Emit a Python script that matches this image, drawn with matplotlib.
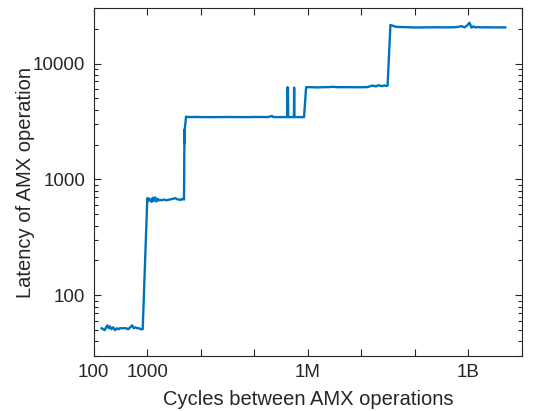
import matplotlib
matplotlib.use('Agg')
import matplotlib.pyplot as plt
from matplotlib.ticker import FixedLocator, FixedFormatter, LogLocator, NullFormatter

# cycles between AMX operations
cycles = [140, 150, 160, 170, 180, 190, 200, 215, 230, 250, 270, 290, 310, 340,
          370, 400, 440, 480, 520, 560, 600, 650, 700, 760, 820,
          1000, 1030, 1070, 1100, 1150, 1200, 1260, 1320, 1400, 1480, 1560, 1650,
          1750, 1850, 1950, 2100, 2250, 2400, 2600, 2800, 3000, 3300, 3600, 3900,
          4200, 4500, 4850, 4950, 5000, 5050, 5300,
          6000, 8000, 10000, 15000, 20000, 30000, 50000, 80000, 120000, 180000,
          215000, 225000, 300000, 410000, 415000, 420000, 425000, 430000, 500000,
          550000, 555000, 560000, 650000, 760000, 850000,
          930000, 1100000, 1500000, 2000000, 2500000, 3000000, 3500000, 4000000,
          6000000, 9000000, 13000000, 16000000, 19000000, 21000000, 23000000,
          25000000, 27000000, 29000000, 31000000,
          35000000, 45000000, 70000000, 1.0e8, 1.5e8, 2.5e8, 4.0e8, 6.0e8,
          7.5e8, 8.5e8, 9.5e8, 1.05e9, 1.15e9, 1.25e9, 1.35e9, 1.5e9, 1.8e9,
          2.2e9, 2.8e9, 3.5e9, 4.9e9]

latency = [52, 51, 50, 53, 55, 52, 54, 51, 53, 50, 52, 51, 52, 52,
           52, 52, 51, 53, 55, 52, 53, 52, 52, 51, 51,
           690, 650, 685, 660, 670, 640, 695, 650, 700, 645, 680, 660,
           665, 660, 665, 670, 660, 665, 670, 675, 680, 690, 675, 670,
           665, 680, 670, 2700, 2050, 2800, 3480,
           3450, 3460, 3450, 3445, 3450, 3455, 3450, 3450, 3460, 3450,
           3530, 3450, 3450, 3450, 6200, 3450, 6200, 3450, 3450,
           3450, 6200, 3450, 3450, 3450, 3450,
           6250, 6250, 6220, 6250, 6260, 6300, 6250, 6250,
           6250, 6240, 6260, 6450, 6350, 6500, 6420,
           6380, 6480, 6400, 6450,
           21500, 20700, 20600, 20450, 20500, 20550, 20500, 20600,
           21000, 20500, 21300, 22500, 20400, 20900, 20500, 20600, 20500,
           20550, 20500, 20500, 20500]

fig = plt.figure(figsize=(5.33, 4.11), dpi=100)
plt.rcParams['font.family'] = ['Liberation Sans', 'DejaVu Sans']
ax = fig.add_axes([0.176, 0.134, 0.803, 0.846])
ax.plot(cycles, latency, color='#0072BD', linewidth=1.7)

ax.set_xscale('log')
ax.set_yscale('log')
ax.set_xlim(100, 1e10)
ax.set_ylim(30, 30000)

decades = [1e2, 1e3, 1e4, 1e5, 1e6, 1e7, 1e8, 1e9, 1e10]
ax.xaxis.set_major_locator(FixedLocator(decades))
ax.xaxis.set_major_formatter(FixedFormatter(['100', '1000', '', '', '1M', '', '', '1B', '']))
ax.xaxis.set_minor_locator(FixedLocator([]))
ax.yaxis.set_major_locator(FixedLocator([100, 1000, 10000]))
ax.yaxis.set_major_formatter(FixedFormatter(['100', '1000', '10000']))
ax.yaxis.set_minor_locator(LogLocator(base=10, subs=range(2, 10)))
ax.yaxis.set_minor_formatter(NullFormatter())

ax.tick_params(which='both', direction='in', top=True, right=True,
               colors='#262626', labelsize=13.5, width=0.8)
ax.tick_params(which='major', length=5, pad=6)
ax.tick_params(which='minor', length=3)
for s in ax.spines.values():
    s.set_color('#262626')
    s.set_linewidth(0.8)

ax.set_xlabel('Cycles between AMX operations', fontsize=14.5, color='#262626')
ax.set_ylabel('Latency of AMX operation', fontsize=14.5, color='#262626')
ax.xaxis.set_label_coords(0.5, -0.098)
ax.yaxis.set_label_coords(-0.138, 0.5)

fig.savefig('out.png', dpi=100)
